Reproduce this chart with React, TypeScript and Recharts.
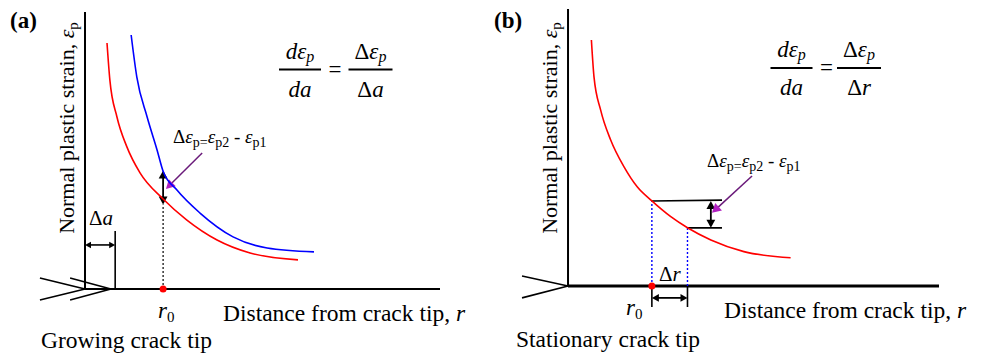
import React from 'react';
import { LineChart, Line, XAxis, YAxis, ReferenceLine, ReferenceDot } from 'recharts';

// panel (a): growing crack tip — strain before (red) and after (blue) growth by Δa
const redA_r = [0.62, 0.7, 0.9, 1.18, 1.55, 2.2, 2.87, 3.72, 4.65, 6.0];
const redA_e = [8.88, 7.55, 6.21, 5.13, 4.19, 3.25, 2.49, 1.77, 1.3, 1.05];
const blueA_r = [1.3, 1.46, 1.75, 2.03, 2.2, 2.59, 3.24, 4.17, 5.13, 6.45];
const blueA_e = [9.17, 7.65, 6.21, 5.02, 4.25, 3.57, 2.74, 1.88, 1.48, 1.34];

// panel (b): stationary crack tip
const redB_r = [0.63, 0.7, 0.88, 1.15, 1.51, 1.87, 2.26, 2.77, 3.22, 3.85, 4.74, 6.0];
const redB_e = [8.88, 7.55, 6.35, 5.27, 4.3, 3.57, 3.07, 2.5, 2.1, 1.66, 1.24, 1.02];

// annotation values (same units as the curves)
const r0A = 2.2;
const deltaA = 0.85;
const epsA = [3.05, 4.28]; // ε_p1, ε_p2 at r0
const r0B = 2.26;
const r1B = 3.22;
const epsB = [3.07, 2.1];

const zip = (r: number[], e: number[]) => r.map((v, i) => ({ r: v, e: e[i] }));
const redA = zip(redA_r, redA_e);
const blueA = zip(blueA_r, blueA_e);
const redB = zip(redB_r, redB_e);

const FONT = "'Liberation Serif', 'DejaVu Serif', 'Times New Roman'";

const arrow =
  (color: string, both: boolean, head = 8, w = 1.5, headColor?: string) =>
  (p: any) => {
    const { x1, y1, x2, y2 } = p;
    const dx = x2 - x1;
    const dy = y2 - y1;
    const len = Math.hypot(dx, dy) || 1;
    const ux = dx / len;
    const uy = dy / len;
    const nx = -uy;
    const ny = ux;
    const hw = head * 0.55;
    const tri = (tx: number, ty: number, ax: number, ay: number) =>
      `${tx},${ty} ${tx - ax * head + nx * hw},${ty - ay * head + ny * hw} ${tx - ax * head - nx * hw},${ty - ay * head - ny * hw}`;
    const sx = both ? x1 + ux * head * 0.7 : x1;
    const sy = both ? y1 + uy * head * 0.7 : y1;
    return (
      <g>
        <line x1={sx} y1={sy} x2={x2 - ux * head * 0.7} y2={y2 - uy * head * 0.7} stroke={color} strokeWidth={w} />
        <polygon points={tri(x2, y2, ux, uy)} fill={headColor || color} />
        {both && <polygon points={tri(x1, y1, -ux, -uy)} fill={headColor || color} />}
      </g>
    );
  };

function PanelA() {
  return (
    <LineChart width={490} height={358} margin={{ top: 12, right: 50, bottom: 52.4, left: 38.85 }}>
      <XAxis type="number" dataKey="r" domain={[-1.3, 10]} hide allowDataOverflow />
      <YAxis type="number" dataKey="e" domain={[-0.6, 10]} hide allowDataOverflow />
      {/* axes */}
      <ReferenceLine segment={[{ x: 0, y: 0 }, { x: 0, y: 10 }]} stroke="#000" strokeWidth={2} ifOverflow="visible" />
      <ReferenceLine segment={[{ x: 0, y: 0 }, { x: 10, y: 0 }]} stroke="#000" strokeWidth={2.2} ifOverflow="visible" />
      {/* crack chevrons */}
      <ReferenceLine segment={[{ x: -1.27, y: 0.4 }, { x: 0, y: 0 }]} stroke="#000" strokeWidth={1.6} ifOverflow="visible" />
      <ReferenceLine segment={[{ x: -1.27, y: -0.4 }, { x: 0, y: 0 }]} stroke="#000" strokeWidth={1.6} ifOverflow="visible" />
      <ReferenceLine segment={[{ x: -0.42, y: 0.4 }, { x: 0.73, y: 0 }]} stroke="#000" strokeWidth={1.6} ifOverflow="visible" />
      <ReferenceLine segment={[{ x: -0.42, y: -0.4 }, { x: 0.73, y: 0 }]} stroke="#000" strokeWidth={1.6} ifOverflow="visible" />
      {/* Δa */}
      <ReferenceLine segment={[{ x: deltaA, y: 0 }, { x: deltaA, y: 2.09 }]} stroke="#000" strokeWidth={1.6} ifOverflow="visible" />
      <ReferenceLine
        segment={[{ x: 0, y: 1.59 }, { x: deltaA, y: 1.59 }]}
        ifOverflow="visible"
        shape={arrow('#000', true, 6, 1.6)}
      />
      {/* r0 */}
      <ReferenceLine segment={[{ x: r0A, y: 0 }, { x: r0A, y: epsA[0] }]} stroke="#000" strokeWidth={1.2} strokeDasharray="2 2" ifOverflow="visible" />
      <ReferenceLine
        segment={[{ x: r0A, y: epsA[0] }, { x: r0A, y: epsA[1] }]}
        ifOverflow="visible"
        shape={arrow('#000', true, 8, 1.8)}
      />
      <ReferenceLine
        segment={[{ x: 3.3, y: 4.91 }, { x: 2.28, y: 3.61 }]}
        ifOverflow="visible"
        shape={arrow('#6a1a7a', false, 9, 1.5, '#b020c0')}
      />
      <Line data={redA} dataKey="e" type="monotone" stroke="#ff0000" strokeWidth={1.6} dot={false} isAnimationActive={false} />
      <Line data={blueA} dataKey="e" type="monotone" stroke="#0000ff" strokeWidth={1.6} dot={false} isAnimationActive={false} />
      <ReferenceDot x={r0A} y={0} r={3.5} fill="#ff0000" stroke="none" ifOverflow="visible" />
    </LineChart>
  );
}

function PanelB() {
  return (
    <LineChart width={490} height={358} margin={{ top: 9, right: 45, bottom: 47.1, left: 25.8 }}>
      <XAxis type="number" dataKey="r" domain={[-1.3, 10]} hide allowDataOverflow />
      <YAxis type="number" dataKey="e" domain={[-0.9, 10]} hide allowDataOverflow />
      <ReferenceLine segment={[{ x: 0, y: 0 }, { x: 0, y: 10 }]} stroke="#000" strokeWidth={2} ifOverflow="visible" />
      <ReferenceLine segment={[{ x: 0, y: 0 }, { x: 10, y: 0 }]} stroke="#000" strokeWidth={3} ifOverflow="visible" />
      <ReferenceLine segment={[{ x: -1.24, y: 0.36 }, { x: 0, y: 0 }]} stroke="#000" strokeWidth={1.6} ifOverflow="visible" />
      <ReferenceLine segment={[{ x: -1.24, y: -0.43 }, { x: 0, y: 0 }]} stroke="#000" strokeWidth={1.6} ifOverflow="visible" />
      {/* projections of ε_p1, ε_p2 */}
      <ReferenceLine segment={[{ x: r0B, y: 0 }, { x: r0B, y: epsB[0] }]} stroke="#0000ff" strokeWidth={1.4} strokeDasharray="2 2" ifOverflow="visible" />
      <ReferenceLine segment={[{ x: r1B, y: 0 }, { x: r1B, y: epsB[1] }]} stroke="#0000ff" strokeWidth={1.4} strokeDasharray="2 2" ifOverflow="visible" />
      <ReferenceLine segment={[{ x: r0B, y: epsB[0] }, { x: 4.15, y: 3.1 }]} stroke="#000" strokeWidth={1.6} ifOverflow="visible" />
      <ReferenceLine segment={[{ x: r1B, y: epsB[1] }, { x: 4.15, y: epsB[1] }]} stroke="#000" strokeWidth={1.8} ifOverflow="visible" />
      <ReferenceLine
        segment={[{ x: 3.85, y: epsB[1] }, { x: 3.85, y: epsB[0] }]}
        ifOverflow="visible"
        shape={arrow('#000', true, 8, 1.8)}
      />
      <ReferenceLine
        segment={[{ x: 4.96, y: 3.97 }, { x: 3.88, y: 2.64 }]}
        ifOverflow="visible"
        shape={arrow('#6a1a7a', false, 9, 1.5, '#b020c0')}
      />
      {/* Δr */}
      <ReferenceLine segment={[{ x: r0B, y: 0 }, { x: r0B, y: -0.76 }]} stroke="#000" strokeWidth={1.6} ifOverflow="visible" />
      <ReferenceLine segment={[{ x: r1B, y: 0 }, { x: r1B, y: -0.76 }]} stroke="#000" strokeWidth={1.6} ifOverflow="visible" />
      <ReferenceLine
        segment={[{ x: r0B, y: -0.43 }, { x: r1B, y: -0.43 }]}
        ifOverflow="visible"
        shape={arrow('#000', true, 7, 1.8)}
      />
      <Line data={redB} dataKey="e" type="monotone" stroke="#ff0000" strokeWidth={1.6} dot={false} isAnimationActive={false} />
      <ReferenceDot x={r0B} y={0} r={3.5} fill="#ff0000" stroke="none" ifOverflow="visible" />
    </LineChart>
  );
}

const Sub = ({ children, size = 14, dy = 4 }: { children: React.ReactNode; size?: number; dy?: number }) => (
  <tspan fontSize={size} dy={dy}>
    {children}
  </tspan>
);

function DeltaLabel({ x, y }: { x: number; y: number }) {
  return (
    <text x={x} y={y} fontSize={19}>
      <tspan>Δ</tspan>
      <tspan fontStyle="italic">ε</tspan>
      <Sub>p=</Sub>
      <tspan fontStyle="italic" dy={-4}>ε</tspan>
      <Sub>p2</Sub>
      <tspan dy={-4}>{'\u00a0-\u00a0'}</tspan>
      <tspan fontStyle="italic">ε</tspan>
      <Sub>p1</Sub>
    </text>
  );
}

function Formula({ c1, c2, y, den2 }: { c1: number; c2: number; y: number; den2: string }) {
  return (
    <g fontSize={23}>
      <text x={c1} y={y - 11} textAnchor="middle">
        <tspan fontStyle="italic">dε</tspan>
        <tspan fontStyle="italic" fontSize={16} dy={3}>p</tspan>
      </text>
      <line x1={c1 - 21} x2={c1 + 21} y1={y} y2={y} stroke="#000" strokeWidth={2} />
      <text x={c1} y={y + 27} textAnchor="middle" fontStyle="italic">da</text>
      <text x={c1 + 35} y={y + 7} textAnchor="middle">=</text>
      <text x={c2} y={y - 11} textAnchor="middle">
        <tspan>Δ</tspan>
        <tspan fontStyle="italic">ε</tspan>
        <tspan fontStyle="italic" fontSize={16} dy={3}>p</tspan>
      </text>
      <line x1={c2 - 22} x2={c2 + 22} y1={y} y2={y} stroke="#000" strokeWidth={2} />
      <text x={c2} y={y + 27} textAnchor="middle">
        <tspan>Δ</tspan>
        <tspan fontStyle="italic">{den2}</tspan>
      </text>
    </g>
  );
}

function YTitle({ x, y }: { x: number; y: number }) {
  return (
    <text x={x} y={y} transform={`rotate(-90 ${x} ${y})`} textAnchor="middle" fontSize={22}>
      Normal plastic strain,{'\u00a0'}
      <tspan fontStyle="italic">ε</tspan>
      <tspan fontSize={15} dy={4}>p</tspan>
    </text>
  );
}

function Texts() {
  return (
    <svg
      width={984}
      height={358}
      style={{ position: 'absolute', left: 0, top: 0, pointerEvents: 'none', fontFamily: FONT }}
    >
      <g fill="#000" style={{ fontFamily: FONT }}>
        <text x={10} y={28} fontSize={23} fontWeight="bold">(a)</text>
        <text x={494} y={28} fontSize={23} fontWeight="bold">(b)</text>
        <YTitle x={74} y={128} />
        <YTitle x={557} y={128} />
        <Formula c1={300} c2={370.5} y={69.5} den2="a" />
        <Formula c1={791.5} c2={859} y={68} den2="r" />
        <DeltaLabel x={173} y={143} />
        <DeltaLabel x={707} y={167} />
        <text x={89} y={225} fontSize={21}>
          Δ<tspan fontStyle="italic">a</tspan>
        </text>
        <text x={659} y={281} fontSize={21}>
          Δ<tspan fontStyle="italic">r</tspan>
        </text>
        <text x={158} y={318} fontSize={23}>
          <tspan fontStyle="italic">r</tspan>
          <tspan fontSize={15} dy={4}>0</tspan>
        </text>
        <text x={626} y={315} fontSize={23}>
          <tspan fontStyle="italic">r</tspan>
          <tspan fontSize={15} dy={4}>0</tspan>
        </text>
        <text x={223} y={321} fontSize={23.5}>
          Distance from crack tip, <tspan fontStyle="italic">r</tspan>
        </text>
        <text x={724} y={318} fontSize={23.5}>
          Distance from crack tip, <tspan fontStyle="italic">r</tspan>
        </text>
        <text x={41} y={348} fontSize={23.5}>Growing crack tip</text>
        <text x={516} y={347} fontSize={23.5}>Stationary crack tip</text>
      </g>
    </svg>
  );
}

export default function App() {
  return (
    <div style={{ position: 'absolute', left: 0, top: 0, width: 984, height: 358, background: '#fff', overflow: 'hidden' }}>
      <div style={{ position: 'absolute', left: 0, top: 0 }}>
        <PanelA />
      </div>
      <div style={{ position: 'absolute', left: 494, top: 0 }}>
        <PanelB />
      </div>
      <Texts />
    </div>
  );
}
